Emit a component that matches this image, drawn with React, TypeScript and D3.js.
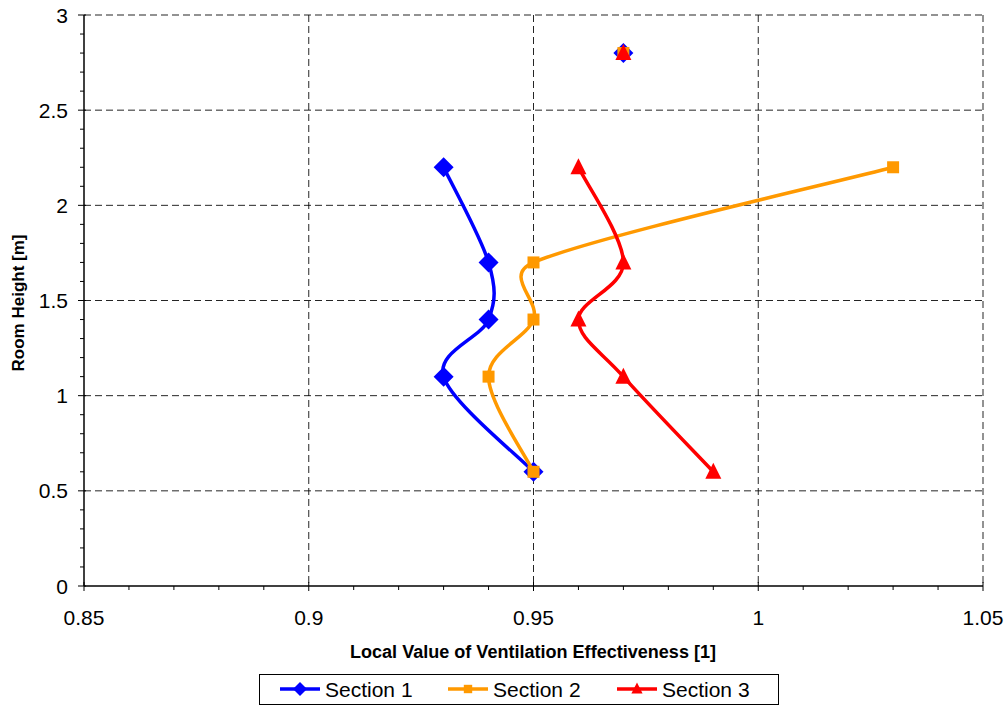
import React from "react";
import * as d3 from "d3";

const heights = [2.8, null, 2.2, 1.7, 1.4, 1.1, 0.6];
const section1 = [0.97, null, 0.93, 0.94, 0.94, 0.93, 0.95];
const section2 = [0.97, null, 1.03, 0.95, 0.95, 0.94, 0.95];
const section3 = [0.97, null, 0.96, 0.97, 0.96, 0.97, 0.99];
const seriesNames = ["Section 1", "Section 2", "Section 3"];
const xTicks = [0.85, 0.9, 0.95, 1, 1.05];
const yTicks = [0, 0.5, 1, 1.5, 2, 2.5, 3];

const W = 1008, H = 706;
const L = 84, R = 983, T = 15, B = 586;
const colors = ["#0000FF", "#FF9900", "#FF0000"];
const shapes = ["diamond", "square", "triangle"];

function Marker({ shape, x, y, color, s = 1 }: { shape: string; x: number; y: number; color: string; s?: number }) {
  if (shape === "diamond") {
    const r = 10 * s;
    return <path d={`M${x},${y - r}L${x + r},${y}L${x},${y + r}L${x - r},${y}Z`} fill={color} />;
  }
  if (shape === "square") {
    const r = 6 * s;
    return <rect x={x - r} y={y - r} width={2 * r} height={2 * r} fill={color} />;
  }
  const r = 8 * s;
  return <path d={`M${x},${y - r - 1}L${x + r},${y + r - 1}L${x - r},${y + r - 1}Z`} fill={color} />;
}

// Excel-like smoothing: Catmull-Rom Bezier with control arms limited relative to segment length
function smoothPath(pts: [number, number][][]): string {
  const p = d3.path();
  for (const seg of pts) {
    if (seg.length === 0) continue;
    p.moveTo(seg[0][0], seg[0][1]);
    if (seg.length === 1) continue;
    const n = seg.length;
    const tan = seg.map((_, i) => {
      const a = seg[Math.max(0, i - 1)];
      const b = seg[Math.min(n - 1, i + 1)];
      return [(b[0] - a[0]) / 6, (b[1] - a[1]) / 6];
    });
    const clamp = (v: number[], len: number) => {
      const l = Math.hypot(v[0], v[1]);
      const max = 0.6 * len;
      if (l > max && l > 0) return [(v[0] * max) / l, (v[1] * max) / l];
      return v;
    };
    for (let i = 0; i < n - 1; i++) {
      const a = seg[i], b = seg[i + 1];
      const len = Math.hypot(b[0] - a[0], b[1] - a[1]);
      const t0 = clamp(tan[i], len);
      const t1 = clamp(tan[i + 1], len);
      p.bezierCurveTo(a[0] + t0[0], a[1] + t0[1], b[0] - t1[0], b[1] - t1[1], b[0], b[1]);
    }
  }
  return p.toString();
}

export default function App() {
  const x = d3.scaleLinear().domain([0.85, 1.05]).range([L, R]);
  const y = d3.scaleLinear().domain([0, 3]).range([B, T]);
  const data = [section1, section2, section3];

  const xMinor = d3.range(0, 21).map((i) => 0.85 + i * 0.01);
  const yMinor = d3.range(0, 31).map((i) => i * 0.1);
  const font = "'Liberation Sans', Arial, sans-serif";

  const legendItems = [
    { lx: 280, tx: 325 },
    { lx: 448, tx: 493 },
    { lx: 617, tx: 662 },
  ];

  return (
    <svg width={W} height={H} style={{ position: "absolute", left: 0, top: 0, background: "#fff" }} fontFamily={font}>
      <rect x={0} y={0} width={W} height={H} fill="#fff" />
      {xTicks.slice(1).map((t) => (
        <line key={"gx" + t} x1={x(t)} x2={x(t)} y1={T} y2={B} stroke="#000" strokeWidth={1} strokeDasharray="7,4" opacity={0.85} />
      ))}
      {yTicks.slice(1).map((t) => (
        <line key={"gy" + t} x1={L} x2={R} y1={y(t)} y2={y(t)} stroke="#000" strokeWidth={1} strokeDasharray="7,4" opacity={0.85} />
      ))}
      <line x1={L} x2={L} y1={T} y2={B} stroke="#000" strokeWidth={1.5} />
      <line x1={L} x2={R} y1={B} y2={B} stroke="#000" strokeWidth={1.5} />
      {xMinor.map((t, i) => (
        <line key={"xm" + i} x1={x(t)} x2={x(t)} y1={i % 5 === 0 ? B - 4 : B} y2={B + (i % 5 === 0 ? 5 : 4)} stroke="#000" strokeWidth={1} />
      ))}
      {yMinor.map((t, i) => (
        <line key={"ym" + i} x1={L - (i % 5 === 0 ? 6 : 4)} x2={i % 5 === 0 ? L + 2 : L} y1={y(t)} y2={y(t)} stroke="#000" strokeWidth={1} />
      ))}
      {xTicks.map((t) => (
        <text key={"xt" + t} x={x(t)} y={625} textAnchor="middle" fontSize={21}>
          {String(t)}
        </text>
      ))}
      {yTicks.map((t) => (
        <text key={"yt" + t} x={68} y={y(t) + 7.5} textAnchor="end" fontSize={21}>
          {String(t)}
        </text>
      ))}
      <text x={533} y={658} textAnchor="middle" fontSize={18} fontWeight="bold" textLength={366} lengthAdjust="spacingAndGlyphs">
        Local Value of Ventilation Effectiveness [1]
      </text>
      <text transform={`translate(24,303) rotate(-90)`} textAnchor="middle" fontSize={17} fontWeight="bold" textLength={137} lengthAdjust="spacingAndGlyphs">
        Room Height [m]
      </text>
      {data.map((vals, si) => {
        const segs: [number, number][][] = [[]];
        vals.forEach((v, i) => {
          const h = heights[i];
          if (v == null || h == null) segs.push([]);
          else segs[segs.length - 1].push([x(v), y(h)]);
        });
        const pts = vals
          .map((v, i) => [v, heights[i]])
          .filter((p) => p[0] != null && p[1] != null) as [number, number][];
        return (
          <g key={"s" + si}>
            <path d={smoothPath(segs)} fill="none" stroke={colors[si]} strokeWidth={3.5} />
            {pts.map((p, i) => (
              <Marker key={i} shape={shapes[si]} x={x(p[0])} y={y(p[1])} color={colors[si]} />
            ))}
          </g>
        );
      })}
      <rect x={259.5} y={674.5} width={519} height={30} fill="#fff" stroke="#000" strokeWidth={1} />
      {seriesNames.map((n, i) => (
        <g key={n}>
          <line x1={legendItems[i].lx} x2={legendItems[i].lx + 40} y1={689} y2={689} stroke={colors[i]} strokeWidth={3.5} />
          <Marker shape={shapes[i]} x={legendItems[i].lx + 20} y={689} color={colors[i]} s={0.7} />
          <text x={legendItems[i].tx} y={697} fontSize={21}>
            {n}
          </text>
        </g>
      ))}
    </svg>
  );
}
